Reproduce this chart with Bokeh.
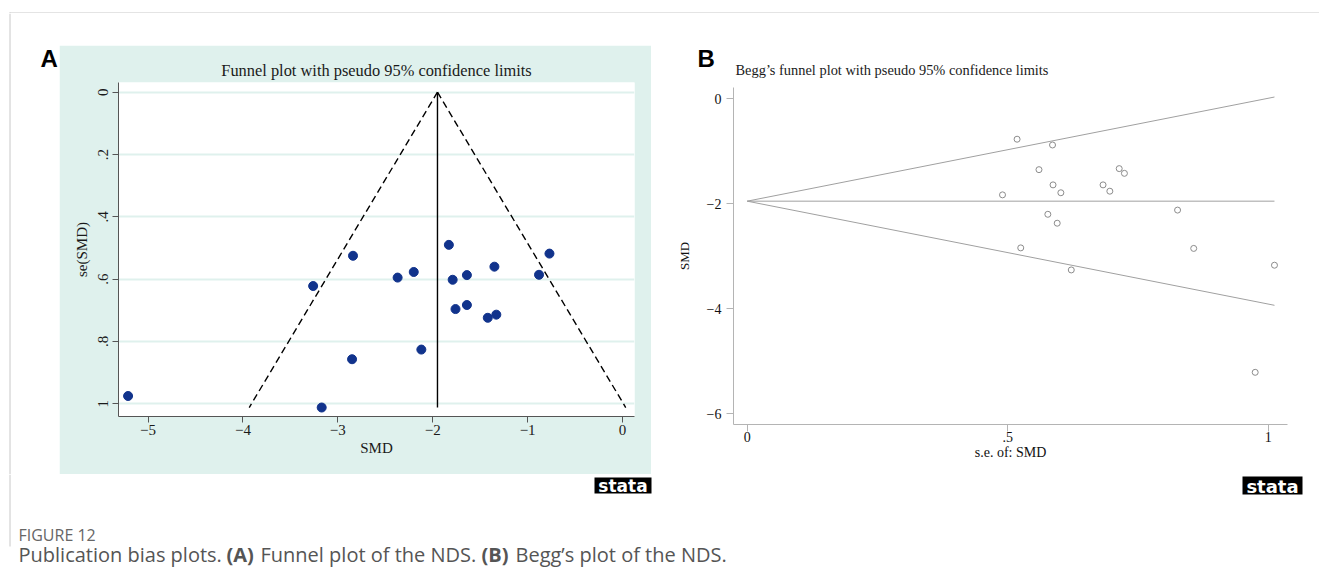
from bokeh.plotting import figure
from bokeh.models import Range1d, FixedTicker, Spacer
from bokeh.layouts import column, row
from bokeh.core.properties import value
from bokeh.embed import file_html
from bokeh.resources import INLINE

# ---------------- data ----------------
smd = [-5.21, -3.17, -3.26, -2.85, -2.84, -2.37, -2.20, -2.12, -1.83,
       -1.79, -1.64, -1.76, -1.64, -1.35, -1.42, -1.33, -0.88, -0.77]
se_smd = [0.975, 1.012, 0.622, 0.857, 0.525, 0.595, 0.577, 0.826, 0.490,
          0.602, 0.587, 0.696, 0.683, 0.560, 0.724, 0.714, 0.586, 0.518]
pooled_smd = -1.95
z95 = 1.96

a_x_ticks = [-5, -4, -3, -2, -1, 0]
a_x_labels = ["\u22125", "\u22124", "\u22123", "\u22122", "\u22121", "0"]
a_y_ticks = [0, 0.2, 0.4, 0.6, 0.8, 1]
a_y_labels = ["0", ".2", ".4", ".6", ".8", "1"]
b_x_ticks = [0, 0.5, 1]
b_x_labels = ["0", ".5", "1"]
b_y_ticks = [0, -2, -4, -6]
b_y_labels = ["0", "\u22122", "\u22124", "\u22126"]

title_a = "Funnel plot with pseudo 95% confidence limits"
title_b = "Begg\u2019s funnel plot with pseudo 95% confidence limits"

TEAL = "#dff1ed"
NAVY = "#11338c"
BORDER = "#c8c8c8"
SERIF = "Liberation Serif"
SANS = "Liberation Sans"


def deco(w, h, bg="white"):
    p = figure(width=w, height=h, x_range=Range1d(0, w), y_range=Range1d(h, 0),
               x_axis_location=None, y_axis_location=None, toolbar_location=None,
               output_backend="svg", min_border=0, outline_line_color=None,
               background_fill_color=bg, border_fill_color=bg)
    p.grid.visible = False
    return p


def txt(p, x, y, s, font, size, color, align="left", baseline="alphabetic", style="normal"):
    p.text(x=[x], y=[y], text=[s], text_font=value(font), text_font_size=value(size),
           text_color=color, text_align=align, text_baseline=baseline,
           text_font_style=style)


def style_axis(ax, color, size, lab_color="#1a1a1a", tick_out=6):
    ax.axis_line_color = color
    ax.axis_line_width = 1
    ax.major_tick_line_color = color
    ax.major_tick_out = tick_out
    ax.major_tick_in = 0
    ax.minor_tick_line_color = None
    ax.major_label_text_font = SERIF
    ax.major_label_text_font_size = size
    ax.major_label_text_color = lab_color
    ax.axis_label_text_font = SERIF
    ax.axis_label_text_font_size = size
    ax.axis_label_text_font_style = "normal"
    ax.axis_label_text_color = lab_color


se_max = max(se_smd)

# ---------------- Panel A (teal box: x 59..651, y 45..474) ----------------
figA = figure(width=592, height=429, x_range=Range1d(-5.311, 0.126),
              y_range=Range1d(1.0408, -0.0311), toolbar_location=None,
              output_backend="svg", min_border_left=59, min_border_right=17,
              min_border_top=37, min_border_bottom=58, border_fill_color=TEAL,
              background_fill_color="white", outline_line_color=None)
figA.title.text = title_a
figA.title.align = "center"
figA.title.text_font = SERIF
figA.title.text_font_size = "16.4px"
figA.title.text_font_style = "normal"
figA.title.text_color = "#1a1a1a"
figA.title.standoff = 5
figA.xaxis.ticker = FixedTicker(ticks=a_x_ticks)
figA.xaxis.major_label_overrides = dict(zip(a_x_ticks, a_x_labels))
figA.yaxis.ticker = FixedTicker(ticks=a_y_ticks)
figA.yaxis.major_label_overrides = dict(zip(a_y_ticks, a_y_labels))
figA.yaxis.major_label_orientation = "vertical"
figA.xaxis.axis_label = "SMD"
figA.yaxis.axis_label = "se(SMD)"
style_axis(figA.xaxis[0], "#555555", "15px")
style_axis(figA.yaxis[0], "#555555", "15px")
figA.xaxis.major_label_standoff = 2
figA.xaxis.axis_label_standoff = 2
figA.yaxis.major_label_standoff = 4
figA.yaxis.axis_label_standoff = 6
figA.xgrid.visible = False
figA.ygrid.grid_line_color = TEAL
figA.ygrid.grid_line_width = 2

figA.line([pooled_smd, pooled_smd - z95 * se_max], [0, se_max],
          line_color="black", line_width=1.4, line_dash="7 4")
figA.line([pooled_smd, pooled_smd + z95 * se_max], [0, se_max],
          line_color="black", line_width=1.4, line_dash="7 4")
figA.line([pooled_smd, pooled_smd], [0, se_max], line_color="black", line_width=1.4)
figA.scatter(smd, se_smd, marker="circle", size=9, fill_color=NAVY, line_color=NAVY)

# ---------------- Panel B (x 651..1319, y 83..474) ----------------
figB = figure(width=668, height=391, x_range=Range1d(-0.0263, 1.037),
              y_range=Range1d(-6.204, 0.215), toolbar_location=None,
              output_backend="svg", min_border_left=82, min_border_right=32,
              min_border_top=4, min_border_bottom=50, border_fill_color="white",
              background_fill_color="white", outline_line_color=None)
figB.grid.visible = False
figB.xaxis.ticker = FixedTicker(ticks=b_x_ticks)
figB.xaxis.major_label_overrides = dict(zip(b_x_ticks, b_x_labels))
figB.yaxis.ticker = FixedTicker(ticks=b_y_ticks)
figB.yaxis.major_label_overrides = dict(zip(b_y_ticks, b_y_labels))
figB.xaxis.axis_label = "s.e. of: SMD"
figB.yaxis.axis_label = "SMD"
style_axis(figB.xaxis[0], "#b4b4b4", "14px", lab_color="#111111", tick_out=7)
style_axis(figB.yaxis[0], "#b4b4b4", "14px", lab_color="#111111", tick_out=7)
figB.yaxis.axis_label_text_font_size = "13px"
figB.xaxis.major_label_standoff = 0
figB.xaxis.axis_label_standoff = 0
figB.yaxis.major_label_standoff = 5
figB.yaxis.axis_label_standoff = 12

LGRAY = "#a0a0a0"
figB.line([0, se_max], [pooled_smd, pooled_smd + z95 * se_max], line_color=LGRAY, line_width=1)
figB.line([0, se_max], [pooled_smd, pooled_smd - z95 * se_max], line_color=LGRAY, line_width=1)
figB.line([0, se_max], [pooled_smd, pooled_smd], line_color=LGRAY, line_width=1)
figB.scatter(se_smd, smd, marker="circle", size=6, fill_color=None,
             line_color="#8c8c8c", line_width=1)

topB = deco(668, 70)
txt(topB, 46, 45, "B", SANS, "24px", "black", style="bold")
txt(topB, 84, 56, title_b, SERIF, "14.4px", "#1a1a1a")

# ---------------- decorations ----------------
top_strip = deco(1319, 13)
top_strip.segment(x0=[9, 9.5], y0=[12.5, 12], x1=[1319, 9.5], y1=[12.5, 13],
                  line_color=BORDER, line_width=1)

left_deco = deco(59, 461)
left_deco.segment(x0=[9.5], y0=[0], x1=[9.5], y1=[461], line_color=BORDER, line_width=1)
txt(left_deco, 40, 44.5, "A", SANS, "24px", "black", style="bold")

bottom = deco(1319, 104)
bottom.segment(x0=[9.5], y0=[0], x1=[9.5], y1=[72], line_color=BORDER, line_width=1)
bottom.quad(left=[594, 1242], right=[651, 1302], top=[3, 2], bottom=[19, 20],
            fill_color="black", line_color=None)
txt(bottom, 622.5, 11.5, "stata", "DejaVu Sans", "17px", "white", align="center",
    baseline="middle", style="bold")
txt(bottom, 1272, 11.5, "stata", "DejaVu Sans", "18px", "white", align="center",
    baseline="middle", style="bold")

CAP = "#555555"
CF = "20px"
txt(bottom, 18, 60, "FIGURE 12", "Open Sans", "16px", "#666666")
txt(bottom, 18, 80, "Publication bias plots.", "Open Sans", CF, CAP)
txt(bottom, 226, 80, "(A)", "Open Sans", CF, CAP, style="bold")
txt(bottom, 260, 80, "Funnel plot of the NDS.", "Open Sans", CF, CAP)
txt(bottom, 481, 80, "(B)", "Open Sans", CF, CAP, style="bold")
txt(bottom, 515, 80, "Begg\u2019s plot of the NDS.", "Open Sans", CF, CAP)

colA = column(Spacer(width=592, height=32), figA, spacing=0)
colB = column(row(topB), row(figB), spacing=0)
mid = row(left_deco, colA, colB, spacing=0)
page = column(top_strip, mid, bottom, spacing=0)

open("out.html", "w").write(file_html(page, INLINE))
